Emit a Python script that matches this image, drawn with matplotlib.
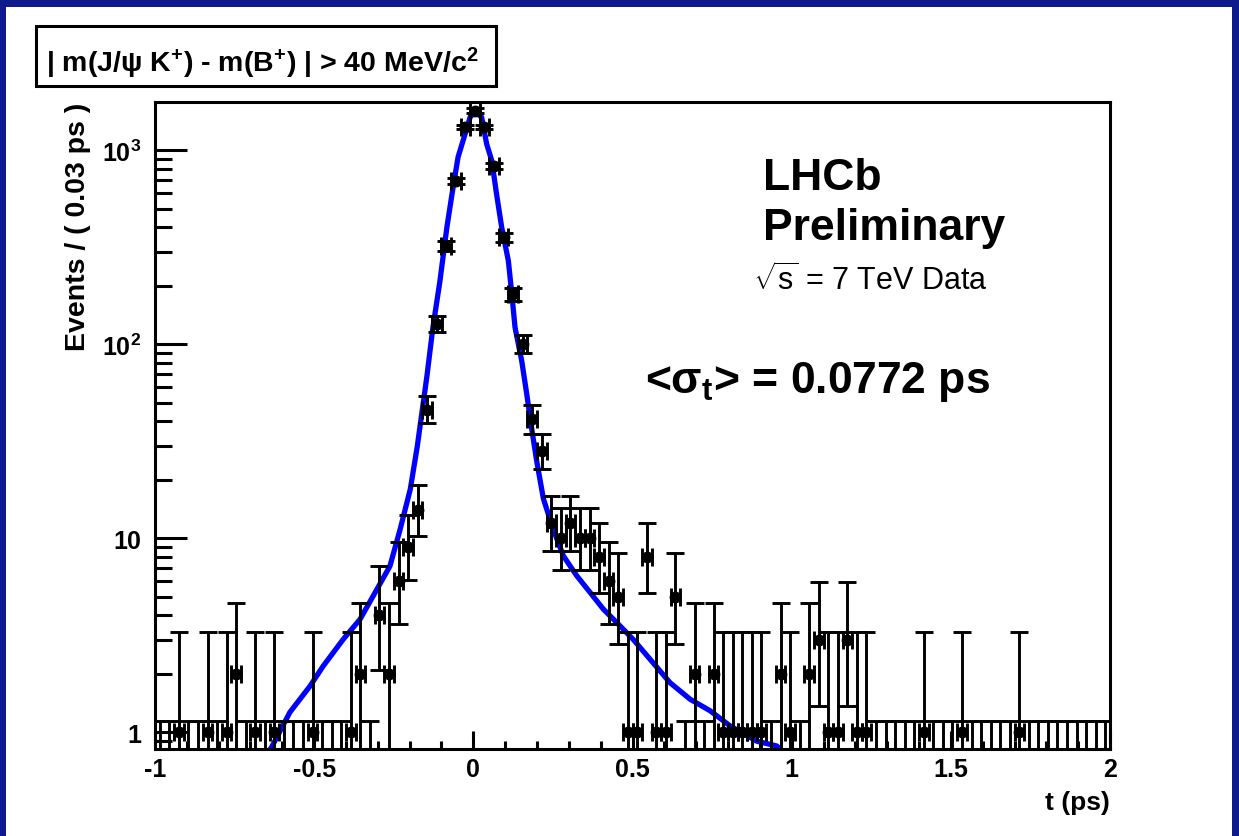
import math
import numpy as np
import matplotlib
matplotlib.use('Agg')
import matplotlib.pyplot as plt
from matplotlib.patches import Rectangle
from matplotlib.ticker import FixedLocator, FixedFormatter, LogLocator, MultipleLocator, NullFormatter

plt.rcParams['font.family'] = ['Liberation Sans', 'DejaVu Sans']
plt.rcParams['mathtext.fontset'] = 'custom'
plt.rcParams['mathtext.rm'] = 'Liberation Sans'
plt.rcParams['mathtext.bf'] = 'Liberation Sans:bold'
plt.rcParams['mathtext.default'] = 'regular'

# decay time histogram: 100 bins of 0.03 ps between -1 and 2 ps
t_min, t_max, bin_w = -1.0, 2.0, 0.03
counts = [0, 0, 1, 0, 0, 1, 0, 1, 2, 0,
          1, 0, 1, 0, 0, 0, 1, 0, 0, 0,
          1, 2, 0, 4, 2, 6, 9, 14, 46, 127,
          320, 692, 1315, 1600, 1315, 827, 356, 181, 100, 41,
          28, 12, 10, 12, 10, 10, 8, 6, 5, 1,
          1, 8, 1, 1, 5, 0, 2, 0, 2, 1,
          1, 1, 1, 1, 0, 2, 1, 0, 2, 3,
          1, 1, 3, 1, 1, 0, 0, 0, 0, 0,
          1, 0, 0, 0, 1, 0, 0, 0, 0, 0,
          1, 0, 0, 0, 0, 0, 0, 0, 0, 0]

# fitted pdf
fit_t = [-0.66, -0.635, -0.576, -0.513, -0.472, -0.409, -0.356, -0.303, -0.262,
         -0.230, -0.198, -0.176, -0.146, -0.127, -0.105, -0.083, -0.067, -0.048,
         -0.026, -0.010, 0.005, 0.026, 0.042, 0.058, 0.073, 0.089, 0.110, 0.121,
         0.131, 0.152, 0.168, 0.183, 0.199, 0.220, 0.251, 0.283, 0.325, 0.367,
         0.409, 0.451, 0.503, 0.555, 0.618, 0.681, 0.744, 0.806, 0.890, 0.953, 0.98]
fit_val = [0.74, 0.83, 1.27, 1.73, 2.19, 3.01, 3.82, 5.45, 7.18,
           11.1, 17.9, 29.8, 68, 122, 211, 401, 593, 920,
           1210, 1480, 1570, 1480, 1074, 881, 593, 401, 269, 181,
           122, 82, 55, 37, 25, 16, 11.1, 8.1, 6.4, 5.25,
           4.3, 3.67, 3.0, 2.38, 1.80, 1.48, 1.29, 1.08, 0.90, 0.85, 0.78]

x_ticks = [-1, -0.5, 0, 0.5, 1, 1.5, 2]
x_tick_labels = ['-1', '-0.5', '0', '0.5', '1', '1.5', '2']
y_ticks = [1, 10, 100, 1000]
y_tick_labels = ['1', '10', '$10^{2}$', '$10^{3}$']

title = r'| m(J/$\psi$ K$^{+}$) - m(B$^{+}$) | > 40 MeV/c$^{2}$'

# poisson 68% intervals like RooFit draws them
logfact = np.concatenate([[0.0], np.cumsum(np.log(np.arange(1, 4000)))])


def pois_cdf(k, mu):
    if k < 0:
        return 0.0
    j = np.arange(k + 1)
    return np.exp(-mu + j * np.log(mu) - logfact[j]).sum()


def solve(k, target, lo, hi):
    for _ in range(60):
        mid = 0.5 * (lo + hi)
        if pois_cdf(k, mid) > target:
            lo = mid
        else:
            hi = mid
    return 0.5 * (lo + hi)


cl = 0.682689
alpha = 0.5 * (1 - cl)
n = np.array(counts, dtype=float)
err_lo, err_hi = [], []
for k in counts:
    if k == 0:
        up = solve(0, 1 - cl, 1e-9, 10)   # one sided for empty bins
        low = 0.0
    else:
        up = solve(k, alpha, k, k + 10 * math.sqrt(k) + 10)
        low = solve(k - 1, 1 - alpha, 1e-9, k)
    err_lo.append(k - low)
    err_hi.append(up - k)

centers = t_min + bin_w * (np.arange(len(counts)) + 0.5)

W, H = 1239, 837
fig = plt.figure(figsize=(W / 100, H / 100), dpi=100)
fig.patch.set_facecolor('#0e1a8c')
fig.add_artist(Rectangle((6 / W, 0), (W - 13) / W, (H - 8) / H, transform=fig.transFigure,
                         facecolor='white', edgecolor='none', zorder=-10))

def fx(x):
    return x / W

def fy(y):
    return 1 - y / H

ax = fig.add_axes([fx(155), fy(750), (1110 - 155) / W, (750 - 103) / H])
ax.set_yscale('log', nonpositive='clip')

ax.plot(fit_t, fit_val, color='#0000ff', lw=3.8, zorder=2)
ax.errorbar(centers, n, yerr=[err_lo, err_hi], xerr=bin_w / 2, fmt='o', color='black',
            ms=7.5, elinewidth=2.1, capsize=6.5, capthick=2.1, zorder=3)

ax.set_xlim(t_min, t_max)
ax.set_ylim(0.82, 1770)

ax.xaxis.set_major_locator(FixedLocator(x_ticks))
ax.xaxis.set_major_formatter(FixedFormatter(x_tick_labels))
ax.xaxis.set_minor_locator(MultipleLocator(0.1))
ax.yaxis.set_major_locator(FixedLocator(y_ticks))
ax.yaxis.set_major_formatter(FixedFormatter(y_tick_labels))
ax.yaxis.set_minor_locator(LogLocator(base=10, subs=np.arange(2, 10)))
ax.yaxis.set_minor_formatter(NullFormatter())

ax.tick_params(which='both', direction='in', top=False, right=False, width=2.2)
ax.tick_params(axis='x', which='major', length=13, pad=6, labelsize=18)
ax.tick_params(axis='x', which='minor', length=6)
ax.tick_params(axis='y', which='major', length=23, pad=10, labelsize=18)
ax.tick_params(axis='y', which='minor', length=12)
for lab in ax.get_xticklabels() + ax.get_yticklabels():
    lab.set_fontweight('bold')
for s in ax.spines.values():
    s.set_linewidth(2.2)

ax.set_xlabel('t (ps)', loc='right', fontsize=19, fontweight='bold', labelpad=6)
ax.set_ylabel('Events / ( 0.03 ps )', loc='top', fontsize=20.5, fontweight='bold', labelpad=8)

fig.add_artist(Rectangle((fx(36), fy(87)), (496 - 36) / W, 60 / H, transform=fig.transFigure,
                         facecolor='white', edgecolor='black', lw=2.2))
fig.text(fx(46), fy(72), title, fontsize=20.5, fontweight='bold', va='baseline', ha='left')

fig.text(fx(763), fy(190), 'LHCb', fontsize=32, fontweight='bold', va='baseline')
fig.text(fx(763), fy(240), 'Preliminary', fontsize=32, fontweight='bold', va='baseline')
fig.text(fx(753), fy(290), r'$\sqrt{s}$ = 7 TeV Data', fontsize=22, va='baseline')
fig.text(fx(645), fy(393), r'<$\sigma_{t}$> = 0.0772 ps', fontsize=32, fontweight='bold', va='baseline')

fig.savefig('out.png', dpi=100)
